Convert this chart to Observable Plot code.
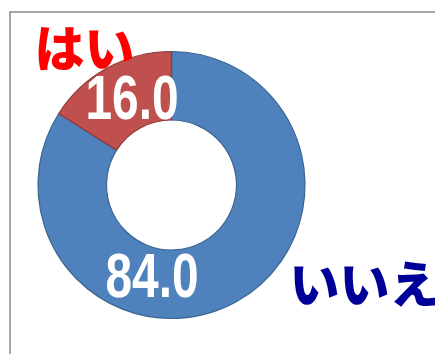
<!DOCTYPE html>
<html><head><meta charset="utf-8">
<script src="https://cdn.jsdelivr.net/npm/d3@7"></script>
<script src="https://cdn.jsdelivr.net/npm/@observablehq/plot@0.6"></script>
<style>body{margin:0;background:#fff}</style>
</head><body><div id="chart"></div>
<script>
const categories = ["いいえ", "はい"];
const values = [84.0, 16.0];
const sliceColors = ["#4F81BD", "#C0504D"];
const sliceStrokes = ["#3B6591", "#8C3A38"];
const categoryLabelColors = ["#000099", "#FF0000"];
const valueLabels = values.map(v => v.toFixed(1));

const data = categories.map((c, i) => ({category: c, value: values[i], label: valueLabels[i]}));

// layout (pixel-like scale units)
const center = {x: 171.5, y: 185};
const outerR = 133.5, innerR = 65;
const valueLabelPos = [{x: 151.5, y: 296}, {x: 131.5, y: 118}];
const catLabelPos = [{x: 289, y: 286}, {x: 34, y: 50}];

const pie = d3.pie().sort(null).value(d => d.value).startAngle(0).endAngle(2 * Math.PI);
const arcs = pie(data);

function donut(index, scales) {
  const g = d3.create("svg:g");
  const cx = scales.x(center.x), cy = scales.y(center.y);
  const k = scales.x(1) - scales.x(0);
  const arc = d3.arc().innerRadius(innerR * k).outerRadius(outerR * k);
  g.selectAll("path").data(arcs).join("path")
    .attr("transform", `translate(${cx},${cy})`)
    .attr("d", arc)
    .attr("fill", (d, i) => sliceColors[i])
    .attr("stroke", (d, i) => sliceStrokes[i])
    .attr("stroke-width", 1.2);
  return g.node();
}

const valueText = data.map((d, i) => ({...d, ...valueLabelPos[i]}));
const catText = data.map((d, i) => ({...d, ...catLabelPos[i], color: categoryLabelColors[i]}));

const chart = Plot.plot({
  width: 435, height: 354,
  margin: 0,
  x: {domain: [0, 435], axis: null},
  y: {domain: [0, 354], axis: null, reverse: true},
  marks: [
    Plot.frame({insetLeft: 9.5, insetTop: 11.5, insetRight: -10, insetBottom: -10, stroke: "#8a8a8a", strokeWidth: 1.5}),
    donut,
    Plot.text(valueText, {x: "x", y: "y", text: "label", fill: "white", fontSize: 63, fontWeight: "bold",
      fontFamily: "'Liberation Sans', Arial, sans-serif", textAnchor: "middle", lineAnchor: "middle"}),
    Plot.text(catText, {x: "x", y: "y", text: "category", fill: "color", fontSize: 50, fontWeight: 900,
      fontFamily: "'Noto Sans CJK JP', sans-serif", textAnchor: "start", lineAnchor: "middle"})
  ]
});
chart.style.overflow = "hidden";
// condense the number labels horizontally (narrow face not installed)
d3.select(chart).selectAll("text").each(function() {
  if (!valueLabels.includes(this.textContent.trim())) return;
  const el = d3.select(this);
  let t = el.attr("transform") || "";
  const x = el.attr("x"), y = el.attr("y");
  if (x != null || y != null) {
    t += ` translate(${+x || 0},${+y || 0})`;
    el.attr("x", null).attr("y", null);
  }
  el.attr("transform", t + " scale(0.76,1)");
});
document.getElementById("chart").append(chart);
</script>
</body></html>
